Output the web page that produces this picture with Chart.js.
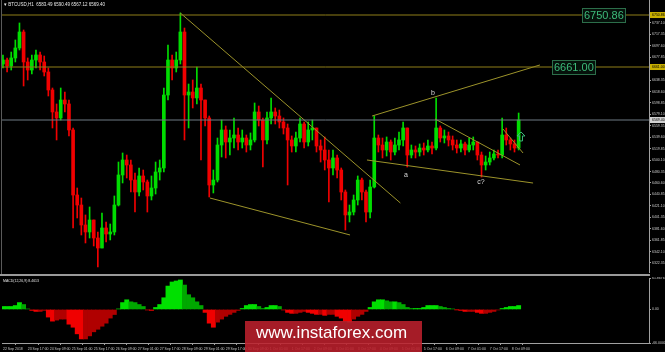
<!DOCTYPE html>
<html lang="en">
<head>
<meta charset="UTF-8">
<title>BTCUSD H1</title>
<script src="https://cdn.jsdelivr.net/npm/chart.js"></script>
<style>
  body { margin: 0; background: #000; width: 665px; height: 352px; overflow: hidden; position: relative; font-family: "Liberation Sans", Arial, sans-serif; }
  #priceChart { position: absolute; left: 0; top: 0; }
  #macdChart { position: absolute; left: 0; top: 277px; }
  .sep { position: absolute; left: 0; top: 274px; width: 650px; height: 2px; background: #9a9a9a; }
  .leftline { position: absolute; left: 1px; top: 0; width: 1px; height: 274px; background: #5a5a5a; }
  .wm { position: absolute; left: 245px; top: 321px; width: 177px; height: 31px; background: rgba(188, 32, 44, 0.88); }
  .wm span { position: absolute; left: 11px; top: 3px; font-size: 17px; line-height: 18px; color: #fff; white-space: nowrap; }
</style>
</head>
<body>
<canvas id="priceChart" width="665" height="273"></canvas>
<div class="leftline"></div>
<div class="sep"></div>
<canvas id="macdChart" width="665" height="75"></canvas>
<div class="wm"><span>www.instaforex.com</span></div>
<script>
// H1 chart read in 3-hour steps, hour 0 = 22 Sep 2018 23:00
const barHours = [];
for (let i = 0; i < 126; i++) barHours.push(i * 3);

const firstOpen = 6666.2;
const closes = [
  6673.1, 6662.8, 6676.6, 6693.9, 6721.5, 6669.7, 6655.8, 6673.1, 6681.8, 6669.7,
  6652.4, 6621.3, 6583.3, 6572.9, 6604.0, 6597.1, 6552.2, 6439.8, 6422.5, 6388.0,
  6375.9, 6396.6, 6365.5, 6348.2, 6382.8, 6372.4, 6375.9, 6422.5, 6474.4, 6500.3,
  6491.7, 6465.7, 6445.0, 6472.7, 6462.3, 6438.1, 6451.9, 6479.6, 6486.5, 6612.6,
  6673.1, 6659.3, 6673.1, 6721.5, 6612.6, 6617.8, 6607.5, 6624.7, 6604.0, 6572.9,
  6457.1, 6465.7, 6526.2, 6552.2, 6531.4, 6538.3, 6543.5, 6531.4, 6538.3, 6526.2,
  6534.9, 6583.3, 6569.4, 6534.9, 6572.9, 6583.3, 6576.3, 6566.0, 6555.6, 6534.9,
  6524.5, 6538.3, 6562.5, 6531.4, 6552.2, 6555.6, 6524.5, 6517.6, 6500.3, 6486.5,
  6503.8, 6483.0, 6445.0, 6405.3, 6410.4, 6431.2, 6465.7, 6445.0, 6410.4, 6453.6,
  6538.3, 6526.2, 6517.6, 6531.4, 6514.1, 6526.2, 6534.9, 6555.6, 6508.9, 6517.6,
  6514.1, 6521.0, 6517.6, 6524.5, 6521.0, 6555.6, 6538.3, 6541.8, 6534.9, 6526.2,
  6521.0, 6528.0, 6517.6, 6526.2, 6531.4, 6508.9, 6491.7, 6496.8, 6503.8, 6510.7,
  6508.9, 6543.5, 6534.9, 6528.0, 6521.0, 6569.4
];
const highs = [
  6681.8, 6676.6, 6686.9, 6707.7, 6737.1, 6725.0, 6676.6, 6681.8, 6690.4, 6686.9,
  6680.0, 6659.3, 6624.7, 6597.1, 6624.7, 6617.8, 6604.0, 6555.6, 6451.9, 6434.6,
  6405.3, 6419.1, 6393.2, 6375.9, 6408.7, 6393.2, 6389.7, 6438.1, 6496.8, 6512.4,
  6508.9, 6500.3, 6477.8, 6486.5, 6483.0, 6465.7, 6472.7, 6496.8, 6500.3, 6624.7,
  6699.0, 6681.8, 6686.9, 6754.3, 6728.4, 6631.6, 6638.6, 6661.0, 6631.6, 6604.0,
  6576.3, 6483.0, 6538.3, 6569.4, 6559.1, 6552.2, 6572.9, 6555.6, 6552.2, 6543.5,
  6547.0, 6598.8, 6593.6, 6572.9, 6583.3, 6607.5, 6590.2, 6586.7, 6572.9, 6562.5,
  6541.8, 6548.7, 6572.9, 6566.0, 6566.0, 6569.4, 6555.6, 6534.9, 6540.1, 6517.6,
  6517.6, 6508.9, 6486.5, 6448.5, 6422.5, 6439.8, 6472.7, 6469.2, 6448.5, 6465.7,
  6576.3, 6543.5, 6538.3, 6540.1, 6534.9, 6538.3, 6548.7, 6566.0, 6555.6, 6526.2,
  6524.5, 6528.0, 6529.7, 6534.9, 6531.4, 6607.5, 6559.1, 6552.2, 6548.7, 6541.8,
  6534.9, 6534.9, 6531.4, 6538.3, 6540.1, 6531.4, 6514.1, 6507.2, 6514.1, 6517.6,
  6517.6, 6572.9, 6555.6, 6538.3, 6534.9, 6581.5
];
const lows = [
  6659.3, 6652.4, 6655.8, 6669.7, 6690.4, 6628.2, 6638.6, 6648.9, 6659.3, 6655.8,
  6645.5, 6610.9, 6555.6, 6534.9, 6569.4, 6583.3, 6541.8, 6382.8, 6400.1, 6370.7,
  6356.9, 6365.5, 6351.7, 6315.4, 6348.2, 6358.6, 6362.1, 6370.7, 6420.8, 6460.6,
  6469.2, 6445.0, 6410.4, 6438.1, 6448.5, 6410.4, 6431.2, 6441.5, 6465.7, 6479.6,
  6604.0, 6638.6, 6652.4, 6666.2, 6534.9, 6555.6, 6590.2, 6597.1, 6500.3, 6559.1,
  6436.4, 6443.3, 6462.3, 6505.5, 6503.8, 6508.9, 6521.0, 6517.6, 6521.0, 6514.1,
  6517.6, 6531.4, 6559.1, 6488.2, 6528.0, 6562.5, 6562.5, 6555.6, 6545.2, 6457.1,
  6514.1, 6514.1, 6531.4, 6521.0, 6524.5, 6534.9, 6514.1, 6496.8, 6483.0, 6427.7,
  6474.4, 6469.2, 6431.2, 6379.3, 6393.2, 6405.3, 6422.5, 6431.2, 6393.2, 6400.1,
  6451.9, 6514.1, 6503.8, 6507.2, 6500.3, 6508.9, 6517.6, 6524.5, 6488.2, 6503.8,
  6503.8, 6507.2, 6508.9, 6514.1, 6510.7, 6517.6, 6531.4, 6529.7, 6524.5, 6517.6,
  6512.4, 6514.1, 6508.9, 6514.1, 6517.6, 6500.3, 6470.9, 6483.0, 6491.7, 6500.3,
  6503.8, 6503.8, 6526.2, 6517.6, 6514.1, 6517.6
];

// MACD(12,26,9) histogram, one value per bar
const macdValues = [
  5.8, 5.8, 5.8, 7.7, 13.5, 9.7, 1.0, -1.9, -3.9, -3.9,
  -1.9, -15, -23, -21, -19, -19, -29, -35, -48, -58,
  -58, -52, -44, -39, -33, -27, -17, -10, 1.0, 13.5,
  19, 15, 13.5, 9.7, 5.8, -1.0, -1.9, 3.9, 9.7, 23,
  46, 54, 56, 58, 48, 29, 23, 15, 7.7, -5.8,
  -27, -35, -25, -19, -13.5, -9.7, -5.8, -1.9, 1.9, 7.7,
  9.7, 9.7, 5.8, 1.9, 3.9, 7.7, 7.7, 5.8, -1.0, -5.8,
  -7.7, -7.7, -5.8, -3.9, -5.8, -7.7, -9.7, -9.7, -11.6, -9.7,
  -9.7, -13.5, -17, -23, -25, -19, -13.5, -9.7, -3.9, 3.9,
  15, 19, 19, 17, 15, 15, 13.5, 9.7, 3.9, 1.9,
  1.9, 1.9, 3.9, 7.7, 7.7, 7.7, 5.8, 3.9, 1.9, 1.0,
  -0.5, -1.9, -3.9, -3.9, -3.9, -5.8, -7.7, -7.7, -5.8, -3.9,
  -1.0, 1.9, 3.9, 5.8, 5.8, 7.7
];

const levels = [6750.86, 6661.00];
const levelBoxHours = [421, 399];

// trend lines: [hour, price] pairs
const trendLines = [
  [[129, 6754.3], [289, 6426.0]],
  [[150.5, 6434.6], [252.4, 6370.7]],
  [[268.4, 6576.3], [390.5, 6664.5]],
  [[264.7, 6500.3], [385.5, 6460.5]],
  [[314.2, 6571.2], [376.0, 6491.7]],
  [[363.6, 6553.9], [378.2, 6512.4]]
];

const waveLabels = ['b', 'a', 'c?'];
const waveHours = [312.7, 293.0, 347.6];
const wavePrices = [6616.1, 6474.4, 6462.3];
const arrowPoint = [376.7, 6540.1];

const priceTicks = [
  6737.10, 6717.35, 6697.60, 6677.85, 6658.10, 6638.35, 6618.60, 6598.85, 6579.10, 6559.35,
  6539.60, 6519.85, 6500.10, 6480.35, 6460.60, 6440.85, 6421.10, 6401.35, 6381.60, 6361.85,
  6342.10, 6322.35
];
const macdTicks = [61.8676, 0, -66.0];
const timeTickHours = [0];
for (let h = 18; h <= 370; h += 16) timeTickHours.push(h);

const xMin = -0.7, xMax = 469.8;
const months = ['Jan', 'Feb', 'Mar', 'Apr', 'May', 'Jun', 'Jul', 'Aug', 'Sep', 'Oct', 'Nov', 'Dec'];
const t0 = Date.UTC(2018, 8, 22, 23);

const GREEN = '#00dc00', RED = '#f00000';
const LEVEL = '#8f7f18', TREND = '#9c932a', TEXTGREEN = '#3dbb7a';
const tinyFont = { family: 'Liberation Sans', size: 3.5 };

const opens = closes.map((c, i) => i === 0 ? firstOpen : closes[i - 1]);
const colors = closes.map((c, i) => c >= opens[i] ? GREEN : RED);
const lastPrice = closes[closes.length - 1];

function fmtHour(h) {
    if (h === 0) return '22 Sep 2018';
    const d = new Date(t0 + h * 3600000);
    const hh = String(d.getUTCHours()).padStart(2, '0');
    return d.getUTCDate() + ' ' + months[d.getUTCMonth()] + ' ' + hh + ':00';
}

function zeroPad(scale) {
    scale.paddingTop = 0; scale.paddingBottom = 0;
    scale.paddingLeft = 0; scale.paddingRight = 0;
}

const lineSet = (pts, color) => ({
    type: 'line',
    data: pts.map(p => ({ x: p[0], y: p[1] })),
    borderColor: color,
    borderWidth: 1,
    pointRadius: 0,
    order: 0
});

const priceOverlay = {
    id: 'priceOverlay',
    afterDatasetsDraw(chart) {
        const { ctx, chartArea } = chart;
        const x = chart.scales.x, y = chart.scales.y;
        ctx.save();

        // wave letters
        ctx.font = '7px "Liberation Sans"';
        ctx.fillStyle = '#d8d8d8';
        ctx.textAlign = 'center';
        ctx.textBaseline = 'middle';
        waveLabels.forEach((t, i) => {
            ctx.fillText(t, x.getPixelForValue(waveHours[i]), y.getPixelForValue(wavePrices[i]));
        });

        // price boxes on the level lines
        ctx.font = '11px "Liberation Sans"';
        ctx.textAlign = 'left';
        levels.forEach((v, i) => {
            const txt = v.toFixed(2);
            const px = Math.round(x.getPixelForValue(levelBoxHours[i]));
            const py = Math.round(y.getPixelForValue(v));
            const w = Math.round(ctx.measureText(txt).width) + 3;
            ctx.fillStyle = '#06110b';
            ctx.fillRect(px, py - 7, w, 15);
            ctx.strokeStyle = '#2c6e4a';
            ctx.lineWidth = 1;
            ctx.strokeRect(px + 0.5, py - 6.5, w, 14);
            ctx.fillStyle = TEXTGREEN;
            ctx.fillText(txt, px + 2, py + 1);
        });

        // up arrow
        const ax = x.getPixelForValue(arrowPoint[0]);
        const ay = y.getPixelForValue(arrowPoint[1]);
        ctx.beginPath();
        ctx.moveTo(ax, ay - 5);
        ctx.lineTo(ax + 4, ay - 1);
        ctx.lineTo(ax + 1.5, ay - 1);
        ctx.lineTo(ax + 1.5, ay + 4);
        ctx.lineTo(ax - 1.5, ay + 4);
        ctx.lineTo(ax - 1.5, ay - 1);
        ctx.lineTo(ax - 4, ay - 1);
        ctx.closePath();
        ctx.strokeStyle = TEXTGREEN;
        ctx.stroke();

        // axis markers
        ctx.font = '3.5px "Liberation Sans"';
        const marks = levels.map(v => [v, '#c9b000']).concat([[lastPrice, '#d0d0d0']]);
        marks.forEach(m => {
            const py = y.getPixelForValue(m[0]);
            ctx.fillStyle = m[1];
            ctx.fillRect(chartArea.right + 1, py - 3, 15, 6);
            ctx.fillStyle = '#000';
            ctx.fillText(m[0].toFixed(2), chartArea.right + 3, py);
        });

        // header
        ctx.font = '4.5px "Liberation Sans"';
        ctx.fillStyle = '#e8e8e8';
        ctx.fillText('\u25BE BTCUSD,H1  6583.49 6590.49 6567.12 6569.40', 4, 5);
        ctx.restore();
    }
};

new Chart(document.getElementById('priceChart'), {
    type: 'bar',
    data: {
        datasets: [
            {
                data: barHours.map((h, i) => ({ x: h, y: [Math.min(lows[i], opens[i], closes[i]), Math.max(highs[i], opens[i], closes[i])] })),
                backgroundColor: colors,
                barThickness: 1,
                grouped: false,
                order: 3
            },
            {
                data: barHours.map((h, i) => ({ x: h, y: [opens[i], closes[i]] })),
                backgroundColor: colors,
                barThickness: 3,
                minBarLength: 1,
                grouped: false,
                order: 2
            },
            lineSet([[xMin, levels[0]], [xMax, levels[0]]], LEVEL),
            lineSet([[xMin, levels[1]], [xMax, levels[1]]], LEVEL),
            lineSet([[xMin, lastPrice], [xMax, lastPrice]], '#6f7a84'),
            ...trendLines.map(t => lineSet(t, TREND))
        ]
    },
    options: {
        responsive: false,
        animation: false,
        layout: { padding: { left: 2, top: 0, right: 0, bottom: 0 } },
        plugins: { legend: { display: false }, tooltip: { enabled: false } },
        scales: {
            x: { type: 'linear', min: xMin, max: xMax, display: false, offset: false },
            y: {
                position: 'right',
                min: 6305.0,
                max: 6776.8,
                afterBuildTicks: s => { s.ticks = priceTicks.map(v => ({ value: v })); },
                afterFit: s => { s.width = 16; zeroPad(s); },
                ticks: { font: tinyFont, color: '#c8c8c8', padding: 1, callback: v => v.toFixed(2) },
                grid: { drawOnChartArea: false, drawTicks: true, tickLength: 2, color: '#a0a0a0' },
                border: { color: '#a0a0a0' }
            }
        }
    },
    plugins: [priceOverlay]
});

const macdOverlay = {
    id: 'macdOverlay',
    afterDatasetsDraw(chart) {
        const { ctx } = chart;
        ctx.save();
        ctx.font = '3.5px "Liberation Sans"';
        ctx.fillStyle = '#e0e0e0';
        ctx.textBaseline = 'middle';
        ctx.fillText('MACD(12,26,9) 8.4613', 3, 4);
        ctx.restore();
    }
};

new Chart(document.getElementById('macdChart'), {
    type: 'bar',
    data: {
        datasets: [{
            data: barHours.map((h, i) => ({ x: h, y: macdValues[i] })),
            backgroundColor: macdValues.map((v, i) => {
                const rising = i === 0 || v >= macdValues[i - 1];
                if (v >= 0) return rising ? '#00e000' : '#00a800';
                return rising ? '#b00000' : '#f00000';
            }),
            barThickness: 4.2,
            grouped: false
        }]
    },
    options: {
        responsive: false,
        animation: false,
        layout: { padding: { left: 2, top: 1, right: 0, bottom: 0 } },
        plugins: { legend: { display: false }, tooltip: { enabled: false } },
        scales: {
            x: {
                type: 'linear',
                min: xMin,
                max: xMax,
                offset: false,
                afterBuildTicks: s => { s.ticks = timeTickHours.map(v => ({ value: v })); },
                afterFit: s => { s.height = 9; zeroPad(s); },
                ticks: { font: tinyFont, color: '#c8c8c8', padding: 2, maxRotation: 0, autoSkip: false, align: 'start', callback: v => fmtHour(v) },
                grid: { drawOnChartArea: false, drawTicks: true, tickLength: 2, color: '#a0a0a0' },
                border: { color: '#a0a0a0' }
            },
            y: {
                position: 'right',
                min: -66,
                max: 61.8676,
                afterBuildTicks: s => { s.ticks = macdTicks.map(v => ({ value: v })); },
                afterFit: s => { s.width = 16; zeroPad(s); },
                ticks: { font: tinyFont, color: '#c8c8c8', padding: 1, callback: v => v === 0 ? '0.00' : v.toFixed(4) },
                grid: { drawOnChartArea: false, drawTicks: true, tickLength: 2, color: '#a0a0a0' },
                border: { color: '#a0a0a0' }
            }
        }
    },
    plugins: [macdOverlay]
});
</script>
</body>
</html>
